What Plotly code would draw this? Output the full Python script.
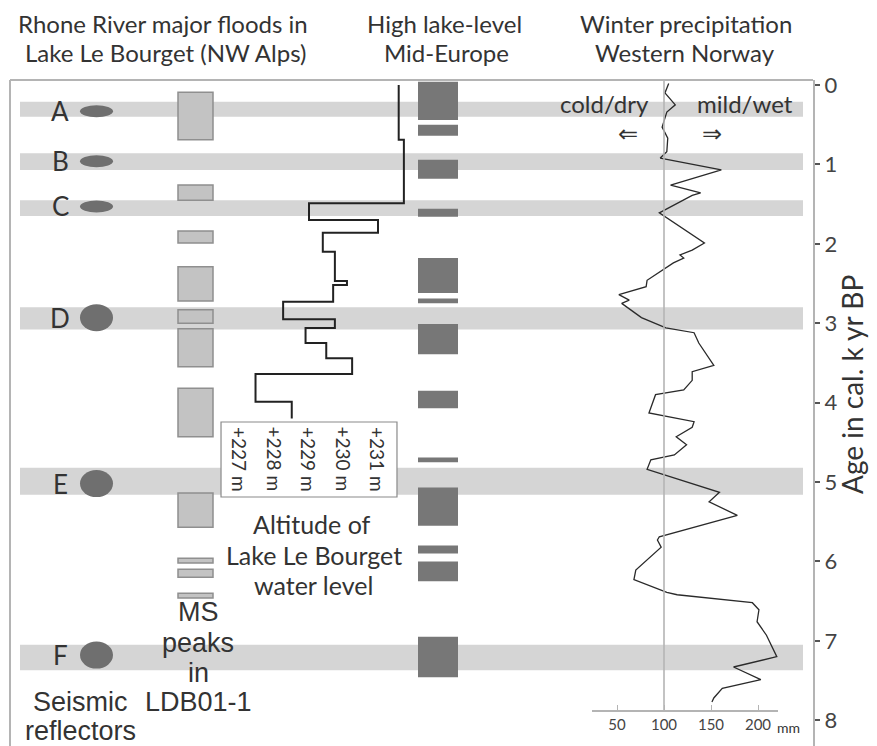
import plotly.graph_objects as go

# ---------------- data ----------------
band_start = [0.21, 0.86, 1.45, 2.80, 4.82, 7.05]
band_end = [0.40, 1.07, 1.65, 3.08, 5.16, 7.37]

reflector_labels = ["A", "B", "C", "D", "E", "F"]
reflector_age = [0.33, 0.96, 1.53, 2.93, 5.02, 7.18]
reflector_large = [False, False, False, True, True, True]

ms_start = [0.09, 1.26, 1.84, 2.29, 2.83, 3.07, 3.82, 5.14, 5.96, 6.10, 6.40]
ms_end = [0.69, 1.45, 1.99, 2.72, 3.00, 3.55, 4.43, 5.57, 6.02, 6.20, 6.46]

hll_start = [-0.04, 0.50, 0.94, 1.56, 2.18, 2.69, 3.01, 3.85, 4.69, 5.07, 5.80, 6.00, 6.95]
hll_end = [0.44, 0.64, 1.18, 1.66, 2.62, 2.75, 3.39, 4.07, 4.75, 5.55, 5.90, 6.25, 7.46]

lake_age = [0.00, 0.69, 1.49, 1.70, 1.86, 2.10, 2.47, 2.52, 2.73, 2.95, 3.06, 3.25, 3.44, 3.64, 3.99, 4.20]
lake_alt = [231.6, 231.75, 229.0, 231.0, 229.4, 229.75, 230.1, 229.7, 228.25, 229.75, 228.9, 229.5,
            230.25, 227.45, 228.5, 228.5]
lake_ticks = [227, 228, 229, 230, 231]
lake_tick_labels = ["+227 m", "+228 m", "+229 m", "+230 m", "+231 m"]

precip_age = [-0.02, 0.10, 0.25, 0.34, 0.53, 0.67, 0.84, 0.92, 1.07, 1.26, 1.36, 1.39, 1.61, 1.99,
              2.08, 2.14, 2.18, 2.24, 2.46, 2.54, 2.64, 2.71, 2.75, 2.93, 3.06, 3.12, 3.25, 3.53,
              3.61, 3.72, 3.84, 3.90, 4.13, 4.16, 4.24, 4.31, 4.43, 4.53, 4.66, 4.72, 4.84, 5.13,
              5.25, 5.42, 5.69, 5.73, 5.82, 6.11, 6.23, 6.39, 6.42, 6.52, 6.61, 6.76, 6.93, 7.20,
              7.33, 7.49, 7.60, 7.72, 7.77]
precip_mm = [105, 101, 112, 103, 98, 104, 103, 96, 161, 107, 139, 130, 95, 143,
             130, 117, 121, 110, 82, 81, 52, 63, 55, 76, 102, 132, 137, 153,
             130, 130, 121, 91, 84, 98, 132, 130, 113, 124, 111, 86, 82, 159,
             148, 178, 95, 93, 97, 70, 68, 103, 114, 194, 201, 199, 209, 220,
             174, 203, 162, 153, 151]
precip_ticks = [50, 100, 150, 200]

age_ticks = [0, 1, 2, 3, 4, 5, 6, 7, 8]

# ---------------- geometry (page pixels, page body has 8px margin) ----------------
OFF = 8
PAGE_W, PAGE_H = 877, 746
W, H = PAGE_W - OFF, PAGE_H - OFF
FRAME_L, FRAME_R, FRAME_T = 10, 813, 80
L, T, B = FRAME_L - OFF, FRAME_T - OFF, 0
R = W - (FRAME_R - OFF)
plot_w = W - L - R
plot_h = H - T - B
PX_PER_KA = 79.4
AGE0_Y = 85
age_top = -(AGE0_Y - FRAME_T) / PX_PER_KA
age_bot = age_top + plot_h / PX_PER_KA


def px(x):
    return (x - FRAME_L) / plot_w


def py(y):
    return (PAGE_H - y) / plot_h


def age_of_y(y):
    return (y - AGE0_Y) / PX_PER_KA


LAKE_PX_PER_M = 34.5
lake_r0 = 227 - (240 - FRAME_L) / LAKE_PX_PER_M
lake_r1 = lake_r0 + plot_w / LAKE_PX_PER_M

MM_PX = 0.94
P_X0, P_X1 = 592, 778
pr0 = 100 + (P_X0 - 664) / MM_PX
pr1 = 100 + (P_X1 - 664) / MM_PX

FONT = "Lato, 'Open Sans', sans-serif"
ARIAL = "'Liberation Sans', Arial, sans-serif"
TXT = "#333333"
GRID = "#b4b4b4"

fig = go.Figure()

fig.add_trace(go.Scatter(x=lake_alt, y=lake_age, xaxis="x2", yaxis="y", mode="lines",
                         line=dict(color="#222222", width=2, shape="vh"), hoverinfo="skip",
                         showlegend=False))
fig.add_trace(go.Scatter(x=precip_mm, y=precip_age, xaxis="x3", yaxis="y", mode="lines",
                         line=dict(color="#2a2a2a", width=1.3), hoverinfo="skip",
                         showlegend=False))

shapes = []
for a0, a1 in zip(band_start, band_end):
    shapes.append(dict(type="rect", xref="paper", yref="y", x0=px(20), x1=px(803), y0=a0, y1=a1,
                       fillcolor="#d5d5d5", line=dict(width=0), layer="below"))
shapes.append(dict(type="line", xref="paper", yref="paper", x0=0, x1=1, y0=1, y1=1,
                   line=dict(color=GRID, width=2)))
shapes.append(dict(type="line", xref="paper", yref="paper", x0=0, x1=0, y0=0, y1=1,
                   line=dict(color=GRID, width=2)))
for a, big in zip(reflector_age, reflector_large):
    hh = (27 if big else 12) / PX_PER_KA / 2
    shapes.append(dict(type="circle", xref="paper", yref="y", x0=px(80), x1=px(113),
                       y0=a - hh, y1=a + hh, fillcolor="#6f6f6f", line=dict(width=0)))
for a0, a1 in zip(ms_start, ms_end):
    shapes.append(dict(type="rect", xref="paper", yref="y", x0=px(178), x1=px(213), y0=a0, y1=a1,
                       fillcolor="#c3c3c3", line=dict(color="#8f8f8f", width=1.5)))
for a0, a1 in zip(hll_start, hll_end):
    shapes.append(dict(type="rect", xref="paper", yref="y", x0=px(418), x1=px(458), y0=a0, y1=a1,
                       fillcolor="#777777", line=dict(width=0)))
shapes.append(dict(type="rect", xref="x2", yref="y", x0=226.45, x1=231.55,
                   y0=age_of_y(422), y1=age_of_y(497), fillcolor="white",
                   line=dict(color="#8a8a8a", width=1.2)))
shapes.append(dict(type="line", xref="x3", yref="y", x0=100, x1=100, y0=age_top,
                   y1=age_of_y(711), line=dict(color=GRID, width=1.6)))

ann = []


def add_text(text, x, y, size, font=FONT, xref="paper", yref="paper", angle=0, xanchor="center",
             yanchor="middle", color=TXT):
    ann.append(dict(text=text, x=x, y=y, xref=xref, yref=yref, showarrow=False, textangle=angle,
                    xanchor=xanchor, yanchor=yanchor, font=dict(family=font, size=size, color=color)))


# headers
add_text("Rhone River major floods in", px(163), py(24), 24)
add_text("Lake Le Bourget (NW Alps)", px(165), py(52), 24)
add_text("High lake-level", px(445), py(24), 24)
add_text("Mid-Europe", px(447), py(52), 24)
add_text("Winter precipitation", px(686), py(24), 24)
add_text("Western Norway", px(685), py(52), 24)

for lab, a in zip(reflector_labels, reflector_age):
    add_text(lab, px(60), a, 26, yref="y")

add_text("Seismic", px(80), py(702), 27, font=ARIAL)
add_text("reflectors", px(80), py(731), 27, font=ARIAL)
for t, yy in zip(["MS", "peaks", "in", "LDB01-1"], [612, 643, 673, 702]):
    add_text(t, px(198), py(yy), 27, font=ARIAL)

for v, t in zip(lake_ticks, lake_tick_labels):
    add_text(t, v, age_of_y(459), 19, xref="x2", yref="y", angle=90)
add_text("Altitude of", px(312), py(524), 25)
add_text("Lake Le Bourget", px(314), py(555), 25)
add_text("water level", px(313), py(585), 25)

add_text("cold/dry", px(604), py(103), 24)
add_text("mild/wet", px(745), py(103), 24)
add_text("\u21d0", px(628), py(132), 24)
add_text("\u21d2", px(712), py(132), 24)
add_text("mm", px(788), py(727), 14)

add_text("Age in cal. k yr BP", px(852), age_of_y(385), 28, yref="y", angle=-90)

fig.update_layout(
    width=W, height=H,
    margin=dict(l=L, r=R, t=T, b=B, pad=0),
    paper_bgcolor="white", plot_bgcolor="rgba(0,0,0,0)",
    showlegend=False,
    xaxis=dict(range=[0, 1], visible=False, fixedrange=True),
    xaxis2=dict(range=[lake_r0, lake_r1], overlaying="x", visible=False),
    xaxis3=dict(domain=[px(P_X0), px(P_X1)], range=[pr0, pr1], anchor="free",
                position=py(711), showline=True, linecolor=GRID, linewidth=1.5,
                ticks="inside", ticklen=5, tickcolor=GRID, tickvals=precip_ticks,
                showgrid=False, zeroline=False,
                tickfont=dict(family=FONT, size=15, color="#444444")),
    yaxis=dict(range=[age_bot, age_top], side="right", showline=True, linecolor=GRID,
               linewidth=2, ticks="outside", ticklen=5, tickwidth=1.5, tickcolor="#555555",
               tickvals=age_ticks, showgrid=False, zeroline=False,
               tickfont=dict(family=FONT, size=22, color="#444444")),
    shapes=shapes,
    annotations=ann,
)

fig.write_html("out.html")
